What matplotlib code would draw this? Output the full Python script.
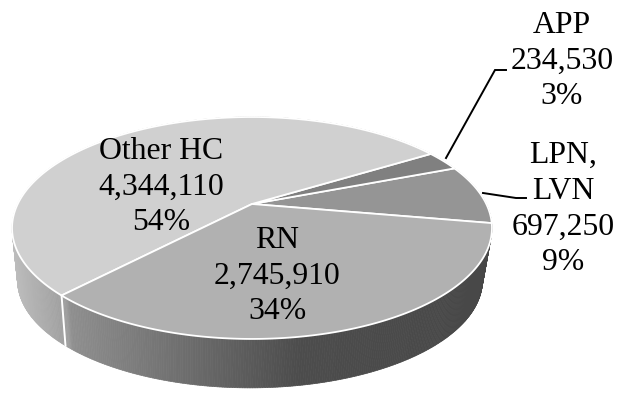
" 3D style pie of health care employment by occupation "
import numpy as np
import matplotlib
matplotlib.use("Agg")
import matplotlib.pyplot as plt
from matplotlib.collections import PolyCollection

plt.rcParams['font.family'] = ['Liberation Serif', 'DejaVu Serif']

names = ["LPN,\nLVN", "APP", "Other HC", "RN"]
counts = [697250, 234530, 4344110, 2745910]
percents = [9, 3, 54, 34]
face_colors = ["#959595", "#808080", "#d0d0d0", "#b1b1b1"]

# label centres and leader lines, in pixels
label_xy = [(563, 209), (562, 61), (161, 187), (277, 276)]
leaders = [[(483, 193), (516, 198), (526, 198)],
           [(446, 158), (495, 70), (506, 70)]]
START_DEG = -10.0
TILT = -0.216


def project(theta, top=True):
    " perspective view of the unit circle, result in pixels "
    x, y = np.cos(theta), -np.sin(theta)
    d = 1 + TILT*y
    if top:
        return 252 + 234.3*x/d, 204 + 105.8*y/d
    return 250 + 227.0*x/d, 257 + 102.6*y/d


def side_color(x):
    " shade of the outer wall, light at the left and dark at the front right "
    g = np.interp(x, [13, 66, 70, 300, 492], [0.74, 0.62, 0.56, 0.30, 0.28])
    return (g, g, g)


fig = plt.figure(figsize=(6.26, 3.93), dpi=100)
ax = fig.add_axes([0, 0, 1, 1])
ax.set_xlim(0, 626)
ax.set_ylim(393, 0)
ax.axis("off")

edges = np.radians(START_DEG + 360*np.cumsum([0] + counts)/np.sum(counts))

# outer wall
t = np.linspace(edges[0], edges[-1], 721)
xt, yt = project(t)
xb, yb = project(t, top=False)
quads, shades = [], []
for i in range(len(t) - 1):
    quads.append([(xt[i], yt[i]), (xt[i+1], yt[i+1]),
                  (xb[i+1], yb[i+1]), (xb[i], yb[i])])
    shades.append(side_color((xt[i] + xt[i+1])/2))
ax.add_collection(PolyCollection(quads, facecolors=shades, edgecolors=shades,
                                 linewidths=0.5))

# white seam on the wall where the two big front slices meet
xs, ys = project(edges[3])
xe, ye = project(edges[3], top=False)
ax.plot([xs, xe], [ys, ye], color="white", lw=1.4)

# top faces
apex = (252, 204)
for i in range(len(counts)):
    ang = np.linspace(edges[i], edges[i+1], 200)
    x, y = project(ang)
    ax.fill(np.r_[apex[0], x], np.r_[apex[1], y], facecolor=face_colors[i],
            edgecolor="white", lw=1.3, joinstyle="miter")

for pts in leaders:
    ax.plot(*zip(*pts), color="black", lw=1.4, solid_joinstyle="miter")

for name, n, p, (lx, ly) in zip(names, counts, percents, label_xy):
    ax.text(lx, ly, f"{name}\n{n:,}\n{p}%", ha="center", va="center",
            fontsize=22.9, linespacing=1.31, color="black")

fig.savefig("out.png", dpi=100)
